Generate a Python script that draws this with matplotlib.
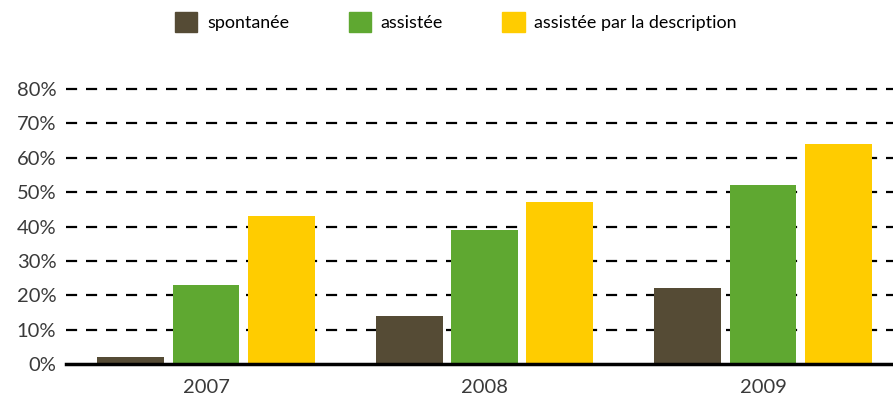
import matplotlib.pyplot as plt
from matplotlib.patches import Patch
import numpy as np

plt.rcParams['font.family'] = ['Lato', 'DejaVu Sans']

years = ['2007', '2008', '2009']
series = ['spontanée', 'assistée', 'assistée par la description']
spontanee = [2, 14, 22]
assistee = [23, 39, 52]
description = [43, 47, 64]
colors = ['#554b35', '#5fa831', '#ffcc00']

fig = plt.figure(figsize=(8.93, 4.01), dpi=100)
ax = fig.add_axes([66 / 893, 1 - 364 / 401, 1 - 66 / 893, (364 - 89) / 401])

x = np.arange(len(years))
step = 0.27
width = 0.24
for i, vals in enumerate([spontanee, assistee, description]):
    ax.bar(x + (i - 1) * step, vals, width, color=colors[i], zorder=3)

ax.set_ylim(0, 80)
ax.set_xlim(-0.503, 2.467)
ax.set_yticks(range(0, 81, 10))
ax.set_yticklabels([f'{v}%' for v in range(0, 81, 10)])
ax.set_xticks(x)
ax.set_xticklabels(years)

for v in range(10, 81, 10):
    ax.axhline(v, color='black', lw=1.6, ls=(0, (5, 4)), zorder=1, clip_on=False)
ax.axhline(0, color='black', lw=2.5, zorder=4, clip_on=False)

for s in ax.spines.values():
    s.set_visible(False)
ax.tick_params(axis='both', length=0, labelsize=14.5, colors='#3a3a3a')
ax.tick_params(axis='y', pad=7)
ax.tick_params(axis='x', pad=11)

handles = [Patch(color=c) for c in colors]
fig.legend(handles, series, loc='center', bbox_to_anchor=(456 / 893, 1 - 22 / 401),
           ncol=3, frameon=False, fontsize=12.9, handlelength=1.25, handleheight=1.3,
           handletextpad=0.55, columnspacing=3.3)

fig.savefig('out.png', dpi=100)
